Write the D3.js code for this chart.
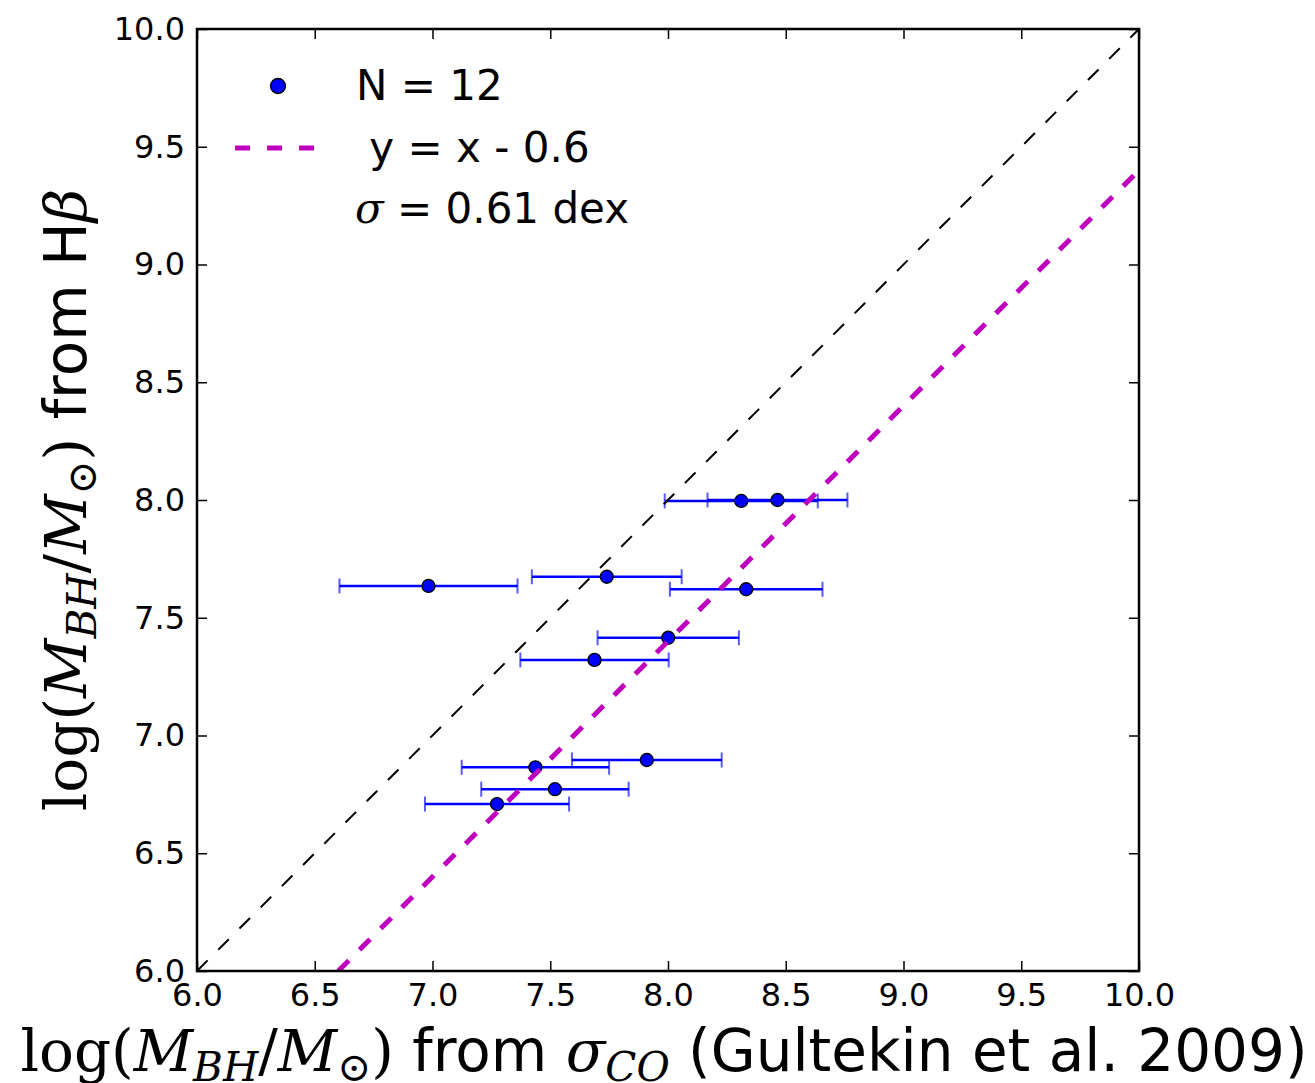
<!DOCTYPE html>
<html>
<head>
<meta charset="utf-8">
<script src="https://cdn.jsdelivr.net/npm/d3@7"></script>
<style>
  body { margin: 0; background: #fff; }
  text { font-family: "DejaVu Sans", sans-serif; }
  .math { font-family: "DejaVu Serif", serif; }
</style>
</head>
<body>
<div id="chart"></div>
<script>
/* M_BH comparison scatter */

const width = 1315,
    height = 1083,
    margin = ({ top: 29, right: 176, bottom: 112, left: 197 });

// values
const xCO  = [6.983, 7.740, 8.311, 8.465, 8.332, 8.001, 7.688, 7.910, 7.437, 7.520, 7.274];
const yHb  = [7.635, 7.674, 7.996, 8.000, 7.621, 7.415, 7.321, 6.896, 6.865, 6.772, 6.709];
const xErr = [0.378, 0.318, 0.325, 0.297, 0.324, 0.300, 0.315, 0.318, 0.313, 0.313, 0.306];
const ticks = [6.0, 6.5, 7.0, 7.5, 8.0, 8.5, 9.0, 9.5, 10.0];
const fitOffset = 0.6;

const data = xCO.map((d, i) => ({ x: d, y: yHb[i], e: xErr[i] }));

const svg = d3.select("#chart")
    .append("svg")
    .attr("width", width)
    .attr("height", height);

let x = d3.scaleLinear()
    .domain([6, 10])
    .range([margin.left, width - margin.right]);

let y = d3.scaleLinear()
    .domain([6, 10])
    .range([height - margin.bottom, margin.top]);

svg.append("clipPath").attr("id", "clip")
  .append("rect")
    .attr("x", x(6)).attr("y", y(10))
    .attr("width", x(10) - x(6)).attr("height", y(6) - y(10));

/* error bars */
const pts = svg.append("g").attr("clip-path", "url(#clip)");

pts.selectAll(".bar")
  .data(data)
  .join("line")
    .attr("x1", d => x(d.x - d.e))
    .attr("x2", d => x(d.x + d.e))
    .attr("y1", d => y(d.y))
    .attr("y2", d => y(d.y))
    .attr("stroke", "#0000ff")
    .attr("stroke-width", 2.5);

pts.selectAll(".cap")
  .data(data.flatMap(d => [{ x: d.x - d.e, y: d.y }, { x: d.x + d.e, y: d.y }]))
  .join("line")
    .attr("x1", d => x(d.x))
    .attr("x2", d => x(d.x))
    .attr("y1", d => y(d.y) - 7.5)
    .attr("y2", d => y(d.y) + 7.5)
    .attr("stroke", "#0000ff")
    .attr("stroke-opacity", 0.65)
    .attr("stroke-width", 2);

pts.selectAll("circle")
  .data(data)
  .join("circle")
    .attr("cx", d => x(d.x))
    .attr("cy", d => y(d.y))
    .attr("r", 6.5)
    .attr("fill", "#0000ff")
    .attr("stroke", "#000")
    .attr("stroke-width", 1.3);

/* one-to-one and offset lines */
const lines = svg.append("g").attr("clip-path", "url(#clip)");

lines.append("line")
    .attr("x1", x(6)).attr("y1", y(6))
    .attr("x2", x(10)).attr("y2", y(10))
    .attr("stroke", "#000")
    .attr("stroke-width", 2)
    .attr("stroke-dasharray", "15,15");

lines.append("line")
    .attr("x1", x(6 + fitOffset)).attr("y1", y(6))
    .attr("x2", x(10)).attr("y2", y(10 - fitOffset))
    .attr("stroke", "#bf00bf")
    .attr("stroke-width", 5)
    .attr("stroke-dasharray", "15,15");

/* axes, ticks pointing in */
const fmt = d3.format(".1f");

svg.append("g")
    .attr("transform", `translate(0,${y(6)})`)
    .call(d3.axisBottom(x).tickValues(ticks).tickSize(-10).tickPadding(12).tickFormat(fmt));

svg.append("g")
    .attr("transform", `translate(0,${y(10)})`)
    .call(d3.axisTop(x).tickValues(ticks).tickSize(-10).tickFormat(""));

svg.append("g")
    .attr("transform", `translate(${x(6)},0)`)
    .call(d3.axisLeft(y).tickValues(ticks).tickSize(-10).tickPadding(12).tickFormat(fmt));

svg.append("g")
    .attr("transform", `translate(${x(10)},0)`)
    .call(d3.axisRight(y).tickValues(ticks).tickSize(-10).tickFormat(""));

svg.selectAll(".domain").remove();
svg.selectAll(".tick line").attr("stroke", "#000").attr("stroke-width", 1.5);
svg.selectAll(".tick text")
    .attr("fill", "#000")
    .style("font-family", "DejaVu Sans")
    .style("font-size", "32px");

svg.append("rect")
    .attr("x", x(6)).attr("y", y(10))
    .attr("width", x(10) - x(6)).attr("height", y(6) - y(10))
    .attr("fill", "none")
    .attr("stroke", "#000")
    .attr("stroke-width", 2.5);

/* axis labels */
function massLabel(t) {
  t.append("tspan").attr("class", "math").text("log(");
  t.append("tspan").attr("class", "math").attr("font-style", "italic").text("M");
  t.append("tspan").attr("class", "math").attr("font-style", "italic")
      .attr("font-size", "0.7em").attr("dy", "0.24em").text("BH");
  t.append("tspan").attr("class", "math").attr("dy", "-0.17em").text("/");
  t.append("tspan").attr("class", "math").attr("font-style", "italic").text("M");
  t.append("tspan").attr("class", "math")
      .attr("font-size", "0.7em").attr("dy", "0.24em").text("\u2299");
  t.append("tspan").attr("class", "math").attr("dy", "-0.17em").text(")");
}

const xl = svg.append("text")
    .attr("x", (x(6) + x(10)) / 2 - 4)
    .attr("y", 1071)
    .attr("text-anchor", "middle")
    .style("font-size", "58px");
massLabel(xl);
xl.append("tspan").text(" from ");
xl.append("tspan").attr("class", "math").attr("font-style", "italic").text("\u03c3");
xl.append("tspan").attr("class", "math").attr("font-style", "italic")
    .attr("font-size", "0.7em").attr("dy", "0.24em").text("CO");
xl.append("tspan").attr("dy", "-0.17em").text(" (Gultekin et al. 2009)");

const yl = svg.append("text")
    .attr("transform", `translate(86,${(y(6) + y(10)) / 2}) rotate(-90)`)
    .attr("text-anchor", "middle")
    .style("font-size", "58px");
massLabel(yl);
yl.append("tspan").text(" from H");
yl.append("tspan").attr("class", "math").attr("font-style", "italic").text("\u03b2");

/* legend */
const leg = svg.append("g");

leg.append("circle")
    .attr("cx", 278).attr("cy", 86).attr("r", 7.5)
    .attr("fill", "#0000ff").attr("stroke", "#000").attr("stroke-width", 1.3);

leg.append("line")
    .attr("x1", 235).attr("x2", 318).attr("y1", 148).attr("y2", 148)
    .attr("stroke", "#bf00bf").attr("stroke-width", 5)
    .attr("stroke-dasharray", "15,17");

leg.append("text").attr("x", 356).attr("y", 100)
    .style("font-size", "42px").text("N = 12");

leg.append("text").attr("x", 356).attr("y", 162)
    .style("font-size", "42px").attr("xml:space", "preserve").text(" y = x - " + fitOffset);

const sig = leg.append("text").attr("x", 355).attr("y", 223).style("font-size", "42px");
sig.append("tspan").attr("class", "math").attr("font-style", "italic").text("\u03c3");
sig.append("tspan").text(" = 0.61 dex");
</script>
</body>
</html>
